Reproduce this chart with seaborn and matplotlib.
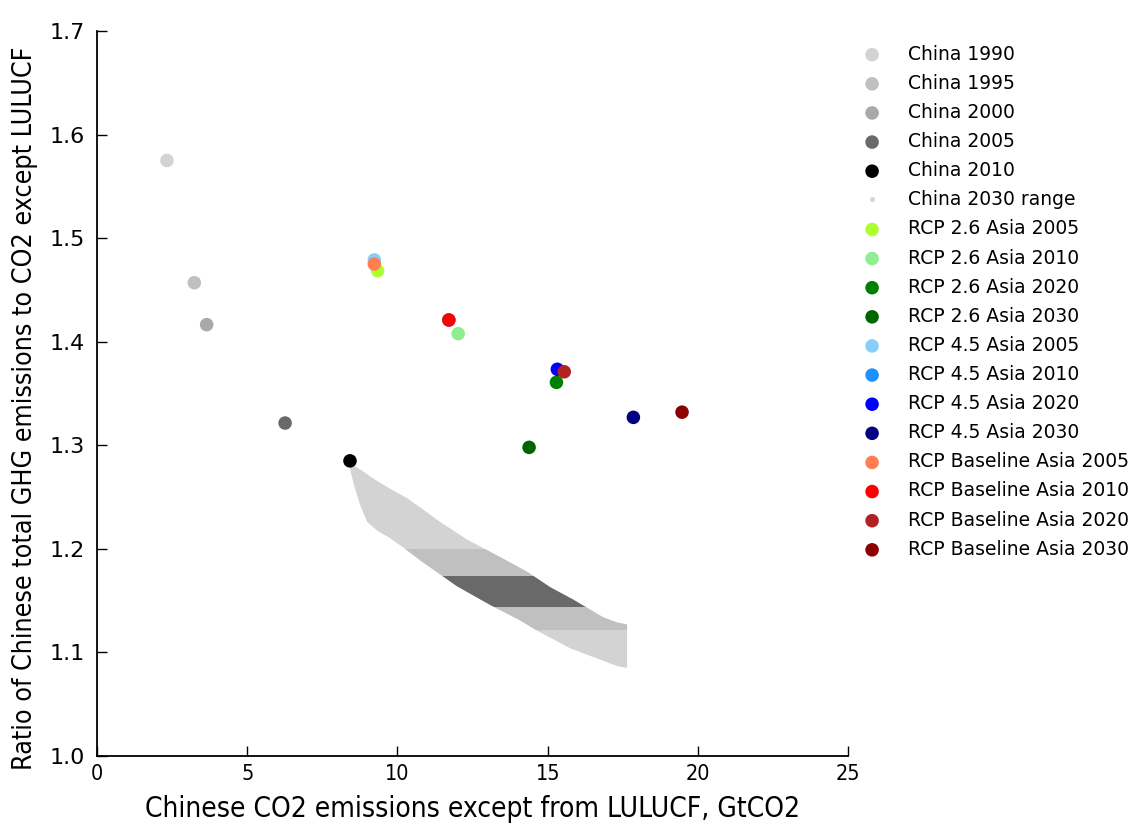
import matplotlib
matplotlib.use("Agg")
import matplotlib.pyplot as plt
from matplotlib.lines import Line2D
import numpy as np
import pandas as pd
import seaborn as sns

# Historical Chinese emissions
china_years = ["China 1990", "China 1995", "China 2000", "China 2005", "China 2010"]
china_co2 = [2.33, 3.24, 3.65, 6.26, 8.42]
china_ratio = [1.575, 1.457, 1.4165, 1.3215, 1.285]
china_colors = ["lightgray", "silver", "darkgray", "dimgray", "black"]

# RCP scenarios for Asia
rcp_labels = [
    "RCP 2.6 Asia 2005", "RCP 2.6 Asia 2010", "RCP 2.6 Asia 2020", "RCP 2.6 Asia 2030",
    "RCP 4.5 Asia 2005", "RCP 4.5 Asia 2010", "RCP 4.5 Asia 2020", "RCP 4.5 Asia 2030",
    "RCP Baseline Asia 2005", "RCP Baseline Asia 2010", "RCP Baseline Asia 2020", "RCP Baseline Asia 2030",
]
rcp_co2 = [9.34, 12.02, 15.29, 14.38,
           9.23, 11.71, 15.32, 17.85,
           9.23, 11.71, 15.55, 19.47]
rcp_ratio = [1.4686, 1.4078, 1.3608, 1.298,
             1.479, 1.421, 1.3734, 1.327,
             1.475, 1.421, 1.371, 1.332]
rcp_colors = ["greenyellow", "lightgreen", "green", "darkgreen",
              "lightskyblue", "dodgerblue", "blue", "navy",
              "coral", "red", "firebrick", "darkred"]

# 2030 projection range: outline of the cloud of outcomes
range_upper_x = [8.40, 8.80, 9.19, 9.70, 10.32, 10.90, 11.42, 12.32, 13.42, 14.31,
                 15.08, 15.85, 16.84, 17.30, 17.64]
range_upper_y = [1.283, 1.276, 1.268, 1.259, 1.249, 1.237, 1.226, 1.209, 1.192, 1.178,
                 1.163, 1.151, 1.134, 1.129, 1.127]
range_lower_x = [8.40, 8.55, 8.75, 8.99, 9.35, 9.75, 10.30, 10.85, 11.98, 13.08,
                 14.08, 14.65, 15.75, 16.84, 17.30, 17.64]
range_lower_y = [1.280, 1.262, 1.243, 1.226, 1.217, 1.2105, 1.199, 1.187, 1.164, 1.146,
                 1.131, 1.121, 1.104, 1.092, 1.087, 1.085]
# ratio bands inside the range (outer and inner percentile bands)
band_mid = [1.122, 1.200]
band_inner = [1.144, 1.174]

x_ticks = [0, 5, 10, 15, 20, 25]
y_ticks = [1.0, 1.1, 1.2, 1.3, 1.4, 1.5, 1.6, 1.7]

sns.set_style("ticks")
plt.rcParams["font.family"] = ["DejaVu Sans"]
plt.rcParams["xtick.direction"] = "in"
plt.rcParams["ytick.direction"] = "in"
plt.rcParams["text.color"] = "black"
plt.rcParams["axes.labelcolor"] = "black"
plt.rcParams["xtick.color"] = "black"
plt.rcParams["ytick.color"] = "black"

fig = plt.figure(figsize=(11.34, 8.25), dpi=100)
ax = fig.add_axes([0.0855, 0.0836, 0.6625, 0.8788])

# 2030 range cloud
poly_x = range_upper_x + range_lower_x[::-1]
poly_y = range_upper_y + range_lower_y[::-1]
outline = ax.fill(poly_x, poly_y, color="lightgray", lw=0, zorder=1)[0]
for (lo, hi), col in [(band_mid, "silver"), (band_inner, "dimgray")]:
    span = ax.axhspan(lo, hi, color=col, lw=0, zorder=1.5)
    span.set_clip_path(outline)

pts = pd.DataFrame({
    "label": china_years + rcp_labels,
    "co2": china_co2 + rcp_co2,
    "ratio": china_ratio + rcp_ratio,
    "color": china_colors + rcp_colors,
})
for _, row in pts.iterrows():
    sns.scatterplot(x=[row["co2"]], y=[row["ratio"]], color=row["color"], s=95,
                    edgecolor="none", label=row["label"], ax=ax, zorder=3)

ax.set_xlim(0, 25)
ax.set_ylim(1.0, 1.7)
ax.set_xticks(x_ticks)
ax.set_yticks(y_ticks)
ax.set_xticklabels([str(t) for t in x_ticks], fontsize=15.5, fontstretch="condensed")
ax.set_yticklabels([f"{t:.1f}" for t in y_ticks], fontsize=16)
ax.tick_params(length=7, width=1, top=False, right=False)
ax.tick_params(axis="x", pad=6)
ax.tick_params(axis="y", pad=9)
for s in ["top", "right"]:
    ax.spines[s].set_visible(False)
for s in ["left", "bottom"]:
    ax.spines[s].set_linewidth(1.3)
    ax.spines[s].set_color("black")

ax.set_xlabel("Chinese CO2 emissions except from LULUCF, GtCO2", fontsize=20.2,
              fontstretch="condensed", labelpad=8)
ax.set_ylabel("Ratio of Chinese total GHG emissions to CO2 except LULUCF", fontsize=19.3,
              fontstretch="condensed")
ax.yaxis.set_label_coords(-0.079, 0.48)

handles, labels = ax.get_legend_handles_labels()
range_handle = Line2D([], [], ls="none", marker="o", markersize=3.5,
                      markerfacecolor="lightgray", markeredgecolor="none")
handles.insert(5, range_handle)
labels.insert(5, "China 2030 range")
ax.legend(handles, labels, loc="upper left", bbox_to_anchor=(0.7525, 0.955),
          bbox_transform=fig.transFigure, frameon=False, fontsize=13.5,
          handletextpad=1.32, labelspacing=0.54, handlelength=1.2, borderaxespad=0)

fig.savefig("out.png", dpi=100)
